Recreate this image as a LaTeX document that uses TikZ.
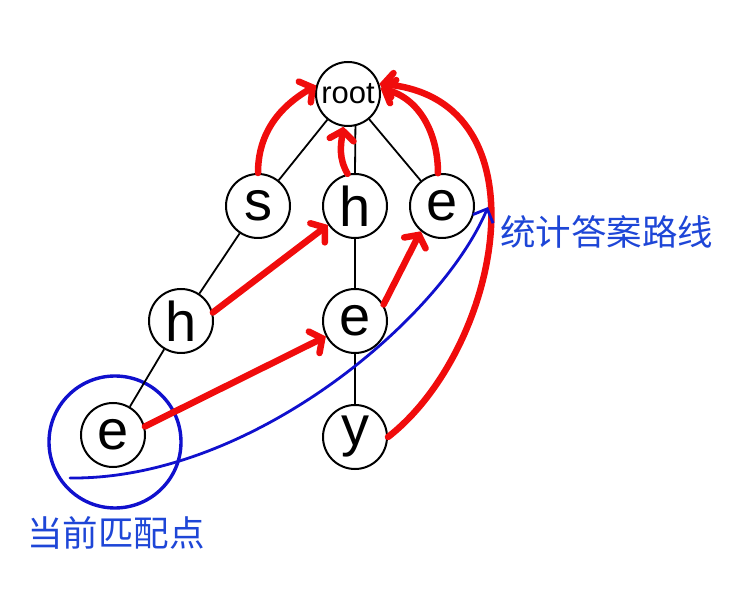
\documentclass[tikz,border=0pt]{standalone}
\usepackage{fontspec}
\setmainfont{Liberation Sans}
\newfontfamily\cjk{Noto Sans CJK SC}
\usetikzlibrary{arrows.meta, positioning}
\definecolor{acred}{RGB}{240,12,12}
\definecolor{acblue}{RGB}{16,16,205}
\definecolor{acnoteblue}{RGB}{30,70,215}
\tikzset{
  acnode/.style={circle, draw, line width=2pt, minimum size=64pt, inner sep=0pt, font=\fontsize{56}{56}\selectfont},
  acroot/.style={acnode, font=\fontsize{31}{31}\selectfont},
  acedge/.style={line width=1.8pt},
  acfail/.style={-{Straight Barb[length=9pt, width=24pt, line cap=round]}, acred, line width=6.5pt, line cap=round},
  acring/.style={circle, draw=acblue, line width=3.4pt, minimum size=132pt, inner sep=0pt},
  acpath/.style={-{Straight Barb[length=11pt, width=22pt]}, acblue, line width=2.8pt, line cap=round},
  acnote/.style={text=acnoteblue, inner sep=0pt, font=\cjk\fontsize{35.5}{35.5}\selectfont},
}
\begin{document}
\begin{tikzpicture}[x=1pt, y=1pt, on grid]
  \useasboundingbox (0,0) rectangle (744,600);

  % Trie for the words she, he, hey.
  \node[acroot] (root) at (348,506) {root};
  \node[acnode, below right=112pt and 7pt of root] (h1) {h};
  \node[acnode, left=97pt of h1] (s) {s};
  \node[acnode, right=87pt of h1] (e1) {e};
  \node[acnode, below=115pt of h1] (e2) {e};
  \node[acnode, below=116pt of e2] (y) {y};
  \node[acnode, left=174pt of e2] (h2) {h};
  \node[acnode, below left=114pt and 68pt of h2] (e3) {e};

  % Highlight of the current match and the answer path.
  \node[acring] (ring) at (115,158) {};
  \coordinate (pathstart) at (70,122);
  \coordinate (pathend) at (488,393);
  \node[acnote, anchor=west] (curnote) at (27,67) {当前匹配点};
  \node[acnote, anchor=west] (pathnote) at (500,368) {统计答案路线};

  % Tree edges.
  \draw[acedge] (root) -- (s) (root.-77) -- (h1.north) (root) -- (e1)
    (s) -- (h2) (h2) -- (e3) (h1) -- (e2) (e2) -- (y);

  % Fail links.
  \draw[acfail] (s.north) to[out=90, in=210] (root.165);
  \draw[acfail] (h1.103) to[out=120, in=262] (root.262);
  \draw[acfail] (e1.97) to[out=90, in=-15] (root.10);
  \draw[acfail] (y.east) .. controls (500,250) and (550,500) .. (root.18);
  \draw[acfail] (h2.15) -- (h1.215);
  \draw[acfail] (e3.15) -- (e2.208);
  \draw[acfail] (e2.30) -- (e1.230);

  % Answer counting path.
  \draw[acpath] (pathstart) .. controls (250,120) and (440,280) .. (pathend);
\end{tikzpicture}
\end{document}
